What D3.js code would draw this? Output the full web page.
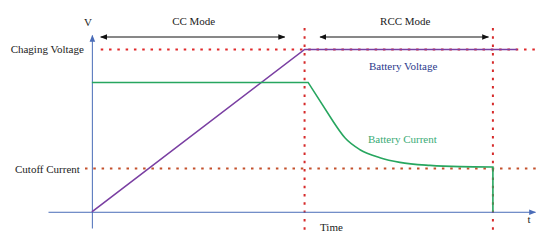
<!DOCTYPE html>
<html>
<head>
<meta charset="utf-8">
<script src="https://cdn.jsdelivr.net/npm/d3@7"></script>
<style>
  body { margin: 0; background: #fff; }
  text { font-family: "Liberation Serif", "Times New Roman", serif; font-size: 11px; }
</style>
</head>
<body>
<div id="chart"></div>
<script>
// charging profile, time in arbitrary units (0..100), level in arbitrary units
const modeBounds = [48, 90.5];            // CC ends, RCC ends
const levelLabels = ['Chaging Voltage', 'Cutoff Current'];
const levelValues = [9, 2.4];
const voltageT = [0, 48, 96];
const voltageV = [0, 9, 9];
// constant part + straight drop
const currentT = [0, 48.8, 54.6];
const currentV = [7.17, 7.17, 4.95];
// decaying tail to cutoff, then switched off
const tailT = [54.6, 57.1, 60.5, 65.0, 69.5, 76.3, 83.1, 90.5];
const tailV = [4.95, 4.1, 3.44, 3.0, 2.74, 2.57, 2.5, 2.48];
const modeLabels = ['CC Mode', 'RCC Mode'];

const width = 550, height = 240;
const svg = d3.select('#chart').append('svg')
    .attr('width', width).attr('height', height);

const x = d3.scaleLinear().domain([-9.9, 100]).range([48, 535]);
const y = d3.scaleLinear().domain([-0.9, 9.8]).range([228, 35]);

const defs = svg.append('defs');
function marker(id, color, orient) {
    defs.append('marker')
        .attr('id', id).attr('viewBox', '0 0 10 10')
        .attr('refX', 9).attr('refY', 5)
        .attr('markerWidth', 7).attr('markerHeight', 7)
        .attr('orient', orient)
        .append('path').attr('d', 'M0,1L10,5L0,9Z').attr('fill', color);
}
marker('ax', '#4a6cb8', 'auto');
marker('ar', '#111', 'auto-start-reverse');

// dotted guide lines
const red = '#e0282a';
svg.append('line')
    .attr('x1', x(2)).attr('x2', 540)
    .attr('y1', y(levelValues[0])).attr('y2', y(levelValues[0]))
    .attr('stroke', red).attr('stroke-width', 2).attr('stroke-dasharray', '2.5,5.8');
svg.append('line')
    .attr('x1', 85).attr('x2', 540)
    .attr('y1', y(levelValues[1])).attr('y2', y(levelValues[1]))
    .attr('stroke', '#c4502c').attr('stroke-width', 2).attr('stroke-dasharray', '2.5,5.8');
modeBounds.forEach(t => {
    svg.append('line')
        .attr('x1', x(t)).attr('x2', x(t))
        .attr('y1', 28).attr('y2', 233)
        .attr('stroke', '#d62a2a').attr('stroke-width', 2).attr('stroke-dasharray', '2.5,5.8');
});

// axes
const yAxis = svg.append('g')
    .attr('transform', `translate(${x(0)},0)`)
    .call(d3.axisLeft(y).tickValues(levelValues)
        .tickFormat((d, i) => levelLabels[i]).tickSize(0).tickPadding(8).tickSizeOuter(0));
yAxis.attr('font-family', null).attr('font-size', null);
yAxis.select('.domain').attr('stroke', '#4a6cb8').attr('marker-end', 'url(#ax)');
yAxis.selectAll('text').attr('fill', '#222');
yAxis.selectAll('.tick').filter((d, i) => i === 1).select('text').attr('dx', -4);

const xAxis = svg.append('g')
    .attr('transform', `translate(0,${y(0)})`)
    .call(d3.axisBottom(x).tickValues([]).tickSizeOuter(0));
xAxis.select('.domain').attr('stroke', '#4a6cb8').attr('marker-end', 'url(#ax)');

// series
const line = d3.line().x(d => x(d[0])).y(d => y(d[1]));
svg.append('path')
    .datum(voltageT.map((t, i) => [t, voltageV[i]]))
    .attr('d', line).attr('fill', 'none')
    .attr('stroke', '#7a3fa2').attr('stroke-width', 1.6);

const head = line(currentT.map((t, i) => [t, currentV[i]]));
const tail = line.curve(d3.curveMonotoneX)(tailT.map((t, i) => [t, tailV[i]]));
const last = tailT.length - 1;
svg.append('path')
    .attr('d', head + tail.replace(/^M/, 'L') + `L${x(tailT[last])},${y(0)}`)
    .attr('fill', 'none')
    .attr('stroke', '#27a65f').attr('stroke-width', 1.6);

// mode arrows
const spans = [[x(2), x(43.5)], [x(51.5), x(89.5)]];
spans.forEach((s, i) => {
    svg.append('line')
        .attr('x1', s[0]).attr('x2', s[1]).attr('y1', 37).attr('y2', 37)
        .attr('stroke', '#111').attr('stroke-width', 1)
        .attr('marker-start', 'url(#ar)').attr('marker-end', 'url(#ar)');
    svg.append('text')
        .attr('x', (s[0] + s[1]) / 2 + 1).attr('y', 25)
        .attr('text-anchor', 'middle').attr('fill', '#222')
        .text(modeLabels[i]);
});

// labels
svg.append('text').attr('x', 88).attr('y', 26).attr('text-anchor', 'middle').attr('fill', '#222').text('V');
svg.append('text').attr('x', 529).attr('y', 223).attr('text-anchor', 'middle').attr('fill', '#222').text('t');
svg.append('text').attr('x', 320).attr('y', 231).attr('fill', '#222').text('Time');
svg.append('text').attr('x', 369).attr('y', 70).attr('fill', '#2b3a8c').text('Battery Voltage');
svg.append('text').attr('x', 368).attr('y', 143).attr('fill', '#3aab76').text('Battery Current');
</script>
</body>
</html>
